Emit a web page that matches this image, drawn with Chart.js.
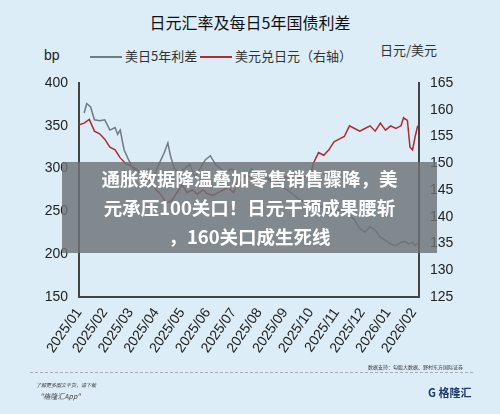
<!DOCTYPE html>
<html><head><meta charset="utf-8">
<script src="https://cdn.jsdelivr.net/npm/chart.js@4"></script>
<style>
body{margin:0;width:500px;height:414px;background:#dcedf8;font-family:"Noto Sans CJK SC","Noto Sans",sans-serif;position:relative;overflow:hidden}
.t{position:absolute;white-space:nowrap}
</style></head><body>
<div class="t" style="left:0;width:500px;top:10px;text-align:center;font-size:16px;color:#111">日元汇率及每日5年国债利差</div>
<div class="t" style="left:44px;top:47px;font-size:14px;color:#222;font-family:'Liberation Sans'">bp</div>
<div class="t" style="left:90px;top:46px;font-size:13px;color:#333"><span style="display:inline-block;width:32px;border-top:2px solid #6f7b80;vertical-align:middle"></span> 美日5年利差 <span style="display:inline-block;width:32px;border-top:2px solid #b02a30;vertical-align:middle"></span> 美元兑日元（右轴）</div>
<div class="t" style="left:380px;top:40px;font-size:13px;color:#333">日元/美元</div>
<div style="position:absolute;left:0;top:60px;width:500px;height:310px"><canvas id="c"></canvas></div>
<div style="position:absolute;left:30px;top:372px;width:443px;border-top:1px dashed #aab"></div>
<div class="t" style="left:368px;top:363px;font-size:5px;color:#333">数据支持：勾股大数据、野村东方国际证券</div>
<div class="t" style="left:36px;top:381px;font-size:5px;color:#444;font-style:italic">了解更多图文干货，请下载</div>
<div class="t" style="left:40px;top:391px;font-size:7px;color:#444;font-style:italic">"格隆汇App"</div>
<div class="t" style="left:428px;top:384px;font-size:11px;color:#1b3a6b;font-weight:bold">G 格隆汇</div>
<div class="t" style="left:62px;top:162px;width:375px;height:89px;background:rgba(110,115,118,0.82);color:#fff;font-weight:bold;font-size:18.5px;line-height:29px;text-align:center;padding-top:2px">通胀数据降温叠加零售销售骤降，美<br>元承压100关口！日元干预成果腰斩<br>，160关口成生死线</div>
<script>
const months=["2025/01","2025/02","2025/03","2025/04","2025/05","2025/06","2025/07","2025/08","2025/09","2025/10","2025/11","2025/12","2026/01","2026/02"];
const spreadX=[0.2,0.3,0.45,0.6,0.8,1.0,1.2,1.4,1.5,1.6,1.75,1.9,2.1,2.3,2.5,2.7,2.9,3.1,3.3,3.45,3.55,3.7,3.9,4.1,4.3,4.5,4.7,4.9,5.1,5.3,5.5,5.7,5.9,6.1,6.3,6.5,6.7,6.9,7.1,7.3,7.5,7.7,7.9,8.1,8.3,8.5,8.7,8.9,9.1,9.3,9.5,9.7,9.9,10.1,10.3,10.5,10.7,10.9,11.1,11.3,11.5,11.7,11.9,12.1,12.3,12.5,12.65,12.8,12.95,13.05,13.15];
const spread=[365,376,372,357,356,357,345,348,340,345,322,312,300,296,292,300,290,305,318,330,315,300,295,300,305,290,300,310,315,305,300,295,300,296,292,290,300,295,288,290,282,285,278,275,270,265,262,260,258,255,256,252,250,252,250,246,240,230,226,232,228,220,216,212,210,214,215,212,214,210,213];
const usdX=[0,0.2,0.4,0.6,0.8,1.0,1.2,1.4,1.6,1.8,2.0,2.2,2.4,2.6,2.8,3.0,3.2,3.4,3.6,3.8,4.0,4.2,4.4,4.6,4.8,5.0,5.2,5.4,5.6,5.8,6.0,6.2,6.4,6.6,6.8,7.0,7.2,7.4,7.6,7.8,8.0,8.2,8.4,8.6,8.8,9.0,9.1,9.3,9.5,9.7,9.9,10.1,10.3,10.5,10.7,10.9,11.1,11.3,11.5,11.7,11.9,12.1,12.3,12.5,12.6,12.75,12.85,12.95,13.05,13.15];
const usd=[157.2,157.5,158.2,156,155.5,154.5,153,152.5,151,150,149.5,149,148,147.5,146.5,145,144,142.5,143,144.5,146,144.5,145,144.2,145,144.3,144,144.5,145,145.5,144.5,147,148,147.5,147,147.5,146.5,147,146.8,147.5,147.5,147,148,147.2,147.5,148,150,152,151.5,152.5,154,154.5,155,157,156.5,156,156.5,157,156,157.5,156.2,157,156.5,157,158.5,158,153,152.5,155,157];
new Chart(document.getElementById('c'),{type:'line',
data:{datasets:[
{data:spreadX.map((x,i)=>({x,y:spread[i]})),yAxisID:'y',borderColor:'#6f7b80',borderWidth:1.5,pointRadius:0,tension:0},
{data:usdX.map((x,i)=>({x,y:usd[i]})),yAxisID:'y1',borderColor:'#b02a30',borderWidth:1.5,pointRadius:0,tension:0}]},
options:{responsive:true,maintainAspectRatio:false,animation:false,
layout:{padding:{top:23,left:0,right:0,bottom:0}},
plugins:{legend:{display:false},tooltip:{enabled:false}},
scales:{
x:{type:'linear',min:0,max:13.2,afterBuildTicks:a=>{a.ticks=months.map((m,i)=>({value:i}));},
 ticks:{callback:(v)=>months[v],autoSkip:false,minRotation:55,maxRotation:55,color:'#222',font:{size:14,family:'Liberation Sans'}},
 grid:{display:false,drawTicks:true,tickLength:5,color:'#444'},border:{color:'#444',width:2},afterFit:s=>{s.height=73;}},
y:{position:'left',min:150,max:400,ticks:{stepSize:50,color:'#222',font:{size:14,family:'Liberation Sans'},padding:6},grid:{display:false,drawTicks:true,tickLength:5,color:'#444'},border:{color:'#444',width:2},afterFit:s=>{s.width=79;}},
y1:{position:'right',min:125,max:165,ticks:{stepSize:5,color:'#222',font:{size:14,family:'Liberation Sans'},padding:6},grid:{display:false,drawTicks:true,tickLength:5,color:'#444'},border:{color:'#444',width:2},afterFit:s=>{s.width=81;}}
}}});
</script></body></html>
